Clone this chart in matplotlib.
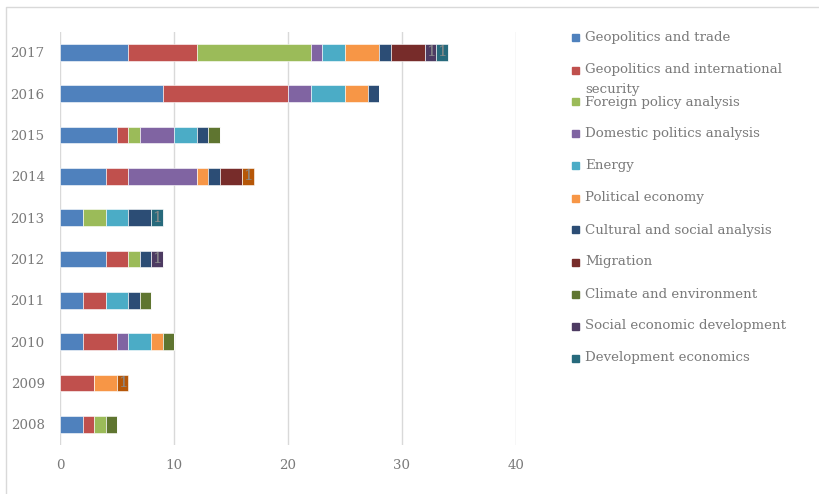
import matplotlib
matplotlib.use('Agg')
import matplotlib.pyplot as plt
from matplotlib.lines import Line2D
from matplotlib.patches import Rectangle
import numpy as np

# data, bottom row first
years = ['2008', '2009', '2010', '2011', '2012', '2013', '2014', '2015', '2016', '2017']

series_names = [
    'Geopolitics and trade',
    'Geopolitics and international\nsecurity',
    'Foreign policy analysis',
    'Domestic politics analysis',
    'Energy',
    'Political economy',
    'Cultural and social analysis',
    'Migration',
    'Climate and environment',
    'Social economic development',
    'Development economics',
    'Other',  # 12th series, cut off from the legend in the original
]

geo_trade     = [2, 0, 2, 2, 4, 2, 4, 5, 9, 6]
geo_security  = [1, 3, 3, 2, 2, 0, 2, 1, 11, 6]
foreign       = [1, 0, 0, 0, 1, 2, 0, 1, 0, 10]
domestic      = [0, 0, 1, 0, 0, 0, 6, 3, 2, 1]
energy        = [0, 0, 2, 2, 0, 2, 0, 2, 3, 2]
pol_economy   = [0, 2, 1, 0, 0, 0, 1, 0, 2, 3]
cultural      = [0, 0, 0, 1, 1, 2, 1, 1, 1, 1]
migration     = [0, 0, 0, 0, 0, 0, 2, 0, 0, 3]
climate       = [1, 0, 1, 1, 0, 0, 0, 1, 0, 0]
social_dev    = [0, 0, 0, 0, 1, 0, 0, 0, 0, 1]
dev_economics = [0, 0, 0, 0, 0, 1, 0, 0, 0, 1]
other         = [0, 1, 0, 0, 0, 0, 1, 0, 0, 0]

all_series = [geo_trade, geo_security, foreign, domestic, energy, pol_economy,
              cultural, migration, climate, social_dev, dev_economics, other]

colors = ['#4F81BD', '#C0504D', '#9BBB59', '#8064A2', '#4BACC6', '#F79646',
          '#2C4D75', '#772C2A', '#5F7530', '#4D3B62', '#276A7C', '#B65708']

# series that carry data labels in the original
labelled = [9, 10, 11]

font = 'DejaVu Serif'
grey = '#7a7a7a'
fsize = 9.6

fig = plt.figure(figsize=(8.19, 4.94), dpi=100)
ax = fig.add_axes([60 / 819, 1 - 445 / 494, (516 - 60) / 819, (445 - 31.7) / 494])

y = np.arange(len(years))
left = np.zeros(len(years))
for i, vals in enumerate(all_series):
    vals = np.array(vals, dtype=float)
    bars = ax.barh(y, vals, left=left, height=0.4, color=colors[i],
                   edgecolor='white', linewidth=0.4, zorder=3)
    if i in labelled:
        for b, v in zip(bars, vals):
            if v > 0:
                ax.text(b.get_x() + b.get_width() / 2, b.get_y() + b.get_height() / 2,
                        '%d' % v, ha='center', va='center', color='#8a8a8a',
                        fontsize=11, family=font, zorder=4)
    left += vals

ax.set_xlim(0, 40)
ax.set_ylim(-0.5, len(years) - 0.5)
ax.set_xticks([0, 10, 20, 30, 40])
ax.set_yticks(y)
ax.set_yticklabels(years)
for s in ax.spines.values():
    s.set_visible(False)
ax.grid(axis='x', color='#D9D9D9', linewidth=1, zorder=0)
ax.tick_params(axis='both', length=0, labelcolor=grey, labelsize=fsize)
ax.tick_params(axis='x', pad=10)
ax.tick_params(axis='y', pad=11)
for lab in ax.get_xticklabels() + ax.get_yticklabels():
    lab.set_family(font)

# legend drawn by hand so the wrapped entry overlaps like the original
W, H = 819.0, 494.0
for i in range(11):
    ypx = 38 + 32 * i
    fig.patches.append(Rectangle((572 / W, 1 - (ypx + 3.5) / H), 7 / W, 7 / H,
                                 transform=fig.transFigure, color=colors[i]))
    if '\n' in series_names[i]:
        first, second = series_names[i].split('\n')
        fig.text(585 / W, 1 - ypx / H, first, va='center', ha='left',
                 color=grey, fontsize=fsize, family=font)
        fig.text(585 / W, 1 - (ypx + 19) / H, second, va='center', ha='left',
                 color=grey, fontsize=fsize, family=font)
    else:
        fig.text(585 / W, 1 - ypx / H, series_names[i], va='center', ha='left',
                 color=grey, fontsize=fsize, family=font)

# chart area border (only left and top visible in the crop)
fig.lines.append(Line2D([6 / W, 6 / W, 1], [0, 1 - 7 / H, 1 - 7 / H],
                        transform=fig.transFigure, color='#D9D9D9', linewidth=1))

fig.savefig('out.png', dpi=100)
